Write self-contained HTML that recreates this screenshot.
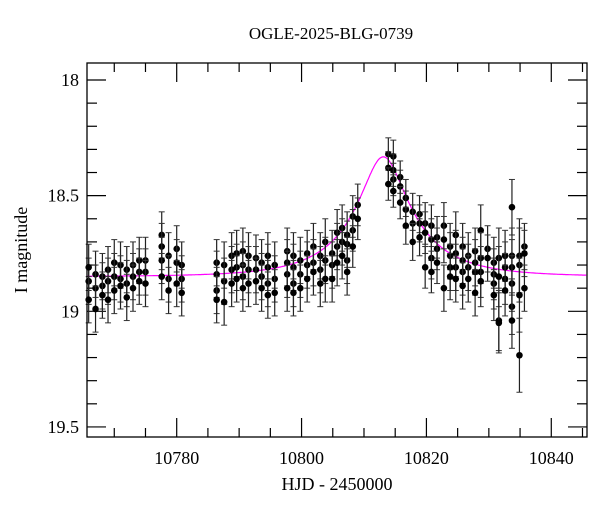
<!DOCTYPE html>
<html><head><meta charset="utf-8"><style>
body{margin:0;background:#fff;width:600px;height:512px;overflow:hidden}
svg text{font-family:"Liberation Serif",serif;fill:#000}
</style></head><body>
<svg id="chart" width="600" height="512" viewBox="0 0 600 512" xmlns="http://www.w3.org/2000/svg">
<rect x="0" y="0" width="600" height="512" fill="#fff"/>
<text x="331" y="39" font-size="17" text-anchor="middle">OGLE-2025-BLG-0739</text>
<text x="337" y="490" font-size="18" text-anchor="middle">HJD - 2450000</text>
<text transform="translate(27,250) rotate(-90)" font-size="18" text-anchor="middle">I magnitude</text>
<g id="ticks"></g>
<g id="model"></g>
<g id="points"></g>
<rect x="87" y="63" width="500" height="374" fill="none" stroke="#000" stroke-width="1.3"/>
</svg>
<script>
// chart data
const colTimes=[10765.9,10767.0,10768.1,10769.0,10770.0,10771.0,10772.0,10773.0,10774.0,10775.0,10777.6,10778.7,10780.0,10780.8,
10786.4,10787.6,10788.8,10789.6,10790.6,10791.5,10792.7,10793.6,10794.6,10795.7,10797.7,10798.7,10799.8,10800.9,10801.9,10803.0,10803.8,10804.9,10805.7,10806.5,10807.3,10808.2,10809.0,
10813.9,10814.7,10815.8,10816.7,10817.8,10818.9,10819.8,10820.8,10821.7,10822.8,10823.8,10824.7,10825.8,10826.7,10827.8,10828.7,10829.8,10830.8,10831.6,10832.6,10833.7,10834.9,10835.7];
const colMags=[[18.87,18.95,18.81],[18.84,18.90,18.99],[18.85,18.89,18.93],[18.82,18.87,18.95],[18.79,18.85,18.91],[18.80,18.86,18.89],[18.82,18.88,18.94],[18.80,18.85,18.90],[18.78,18.83,18.87],[18.78,18.83,18.88],[18.67,18.72,18.78,18.85],[18.76,18.86,18.91],[18.73,18.79,18.88],[18.80,18.86,18.92],
[18.79,18.84,18.91,18.95],[18.80,18.87,18.96],[18.76,18.82,18.88],[18.75,18.81,18.86],[18.74,18.80,18.85,18.90],[18.76,18.82,18.88],[18.77,18.82,18.87],[18.79,18.85,18.90],[18.76,18.81,18.88,18.93],[18.80,18.86,18.92],[18.74,18.79,18.84,18.90],[18.76,18.81,18.88,18.92],[18.78,18.84,18.90],[18.75,18.80,18.86],[18.72,18.79,18.83],[18.76,18.82,18.88],[18.70,18.78,18.86],[18.75,18.80,18.86],[18.66,18.72,18.79],[18.64,18.70,18.76],[18.67,18.71,18.78,18.83],[18.59,18.65,18.72],[18.54,18.60],
[18.32,18.38,18.45],[18.33,18.39,18.43,18.48],[18.42,18.46,18.53],[18.51,18.56,18.63],[18.57,18.62,18.70],[18.58,18.62,18.68],[18.62,18.66,18.81],[18.63,18.69,18.77,18.83],[18.68,18.73,18.79],[18.63,18.69,18.90],[18.72,18.76,18.81,18.85],[18.67,18.75,18.81,18.86],[18.72,18.78,18.83,18.89],[18.76,18.81,18.86],[18.74,18.79,18.83,18.92],[18.65,18.77,18.83,18.87],[18.73,18.77],[18.79,18.84,18.88,18.93],[18.77,18.85,19.04,19.05],[18.76,18.81,18.86,18.91],[18.55,18.76,18.81,18.88,18.98,19.04],[18.76,18.80,18.93,19.19],[18.72,18.75,18.90]];
const colErrs=[0.1,0.1,0.1,0.1,0.1,0.1,0.1,0.1,0.1,0.1,0.1,0.1,0.1,0.1,
0.1,0.1,0.1,0.1,0.1,0.1,0.1,0.1,0.1,0.1,0.1,0.1,0.1,0.1,0.1,0.1,0.1,0.1,0.1,0.1,0.1,0.09,0.09,
0.07,0.07,0.07,0.08,0.08,0.08,0.09,0.09,0.09,0.1,0.1,0.1,0.1,0.1,0.1,0.11,0.1,0.11,0.13,0.11,0.12,0.16,0.1];
const xTicks=[10780,10800,10820,10840];
const yTicks=[18,18.5,19,19.5];
const yTickLabels=["18","18.5","19","19.5"];
// model params
const modelT0=10813.1, modelTE=12, modelU0=0.3, modelFs=0.25, modelBase=18.85;

const NS="http://www.w3.org/2000/svg";
const X0=87,X1=587,Y0=63,Y1=437;
const xs=t=>176.7+(t-10780)*6.243;
const ys=m=>80+(m-18)*231.3;
function mk(tag,attrs,parent){const e=document.createElementNS(NS,tag);for(const k in attrs)e.setAttribute(k,attrs[k]);parent.appendChild(e);return e;}
const gt=document.getElementById('ticks');
for(let t=10770;t<=10845;t+=5){
  const major=t%20===0;const L=major?19:9;const x=xs(t);
  const a=mk('line',{x1:x,x2:x,y1:Y1,y2:Y1-L,stroke:'#000','stroke-width':1.2},gt);
  
  
  const b=mk('line',{x1:x,x2:x,y1:Y0,y2:Y0+L,stroke:'#000','stroke-width':1.2},gt);
  
  
}
xTicks.forEach(t=>{
  const tx=mk('text',{x:xs(t),y:464,'font-size':18,'text-anchor':'middle'},gt);tx.textContent=t;
  
  
});
for(let i=0;i<=15;i++){
  const m=18+i*0.1;const y=ys(m);if(y<Y0||y>Y1)continue;
  const major=i%5===0;const L=major?19:10;
  const a=mk('line',{x1:X0,x2:X0+L,y1:y,y2:y,stroke:'#000','stroke-width':1.2},gt);
  
  
  const b=mk('line',{x1:X1,x2:X1-L,y1:y,y2:y,stroke:'#000','stroke-width':1.2},gt);
  
  
}
yTicks.forEach((m,i)=>{
  const tx=mk('text',{x:79,y:ys(m)+6,'font-size':18,'text-anchor':'end'},gt);tx.textContent=yTickLabels[i];
  
  
});
// model curve
function modelMag(t){const tau=(t-modelT0)/modelTE;const u=Math.sqrt(modelU0*modelU0+tau*tau);
  const A=(u*u+2)/(u*Math.sqrt(u*u+4));return modelBase-2.5*Math.log10(1+modelFs*(A-1));}
let d='';
for(let t=10765.6;t<=10845.7;t+=0.1){d+=(d?'L':'M')+xs(t).toFixed(1)+','+ys(modelMag(t)).toFixed(1);}
const path=mk('path',{d:d,fill:'none',stroke:'#ff00ff','stroke-width':1.2},document.getElementById('model'));


// points
const gp=document.getElementById('points');
colTimes.forEach((t,i)=>{
  const x=xs(t);const e=colErrs[i];
  colMags[i].forEach(m=>{
    const g=mk('g',{},gp);
    
    
    const ya=ys(m-e),yb=ys(m+e);
    mk('line',{x1:x,x2:x,y1:ya,y2:yb,stroke:'#222','stroke-width':1.2},g);
    mk('line',{x1:x-3,x2:x+3,y1:ya,y2:ya,stroke:'#333','stroke-width':1},g);
    mk('line',{x1:x-3,x2:x+3,y1:yb,y2:yb,stroke:'#333','stroke-width':1},g);
    mk('circle',{cx:x,cy:ys(m),r:3.3,fill:'#000'},g);
  });
});
</script>
</body></html>
